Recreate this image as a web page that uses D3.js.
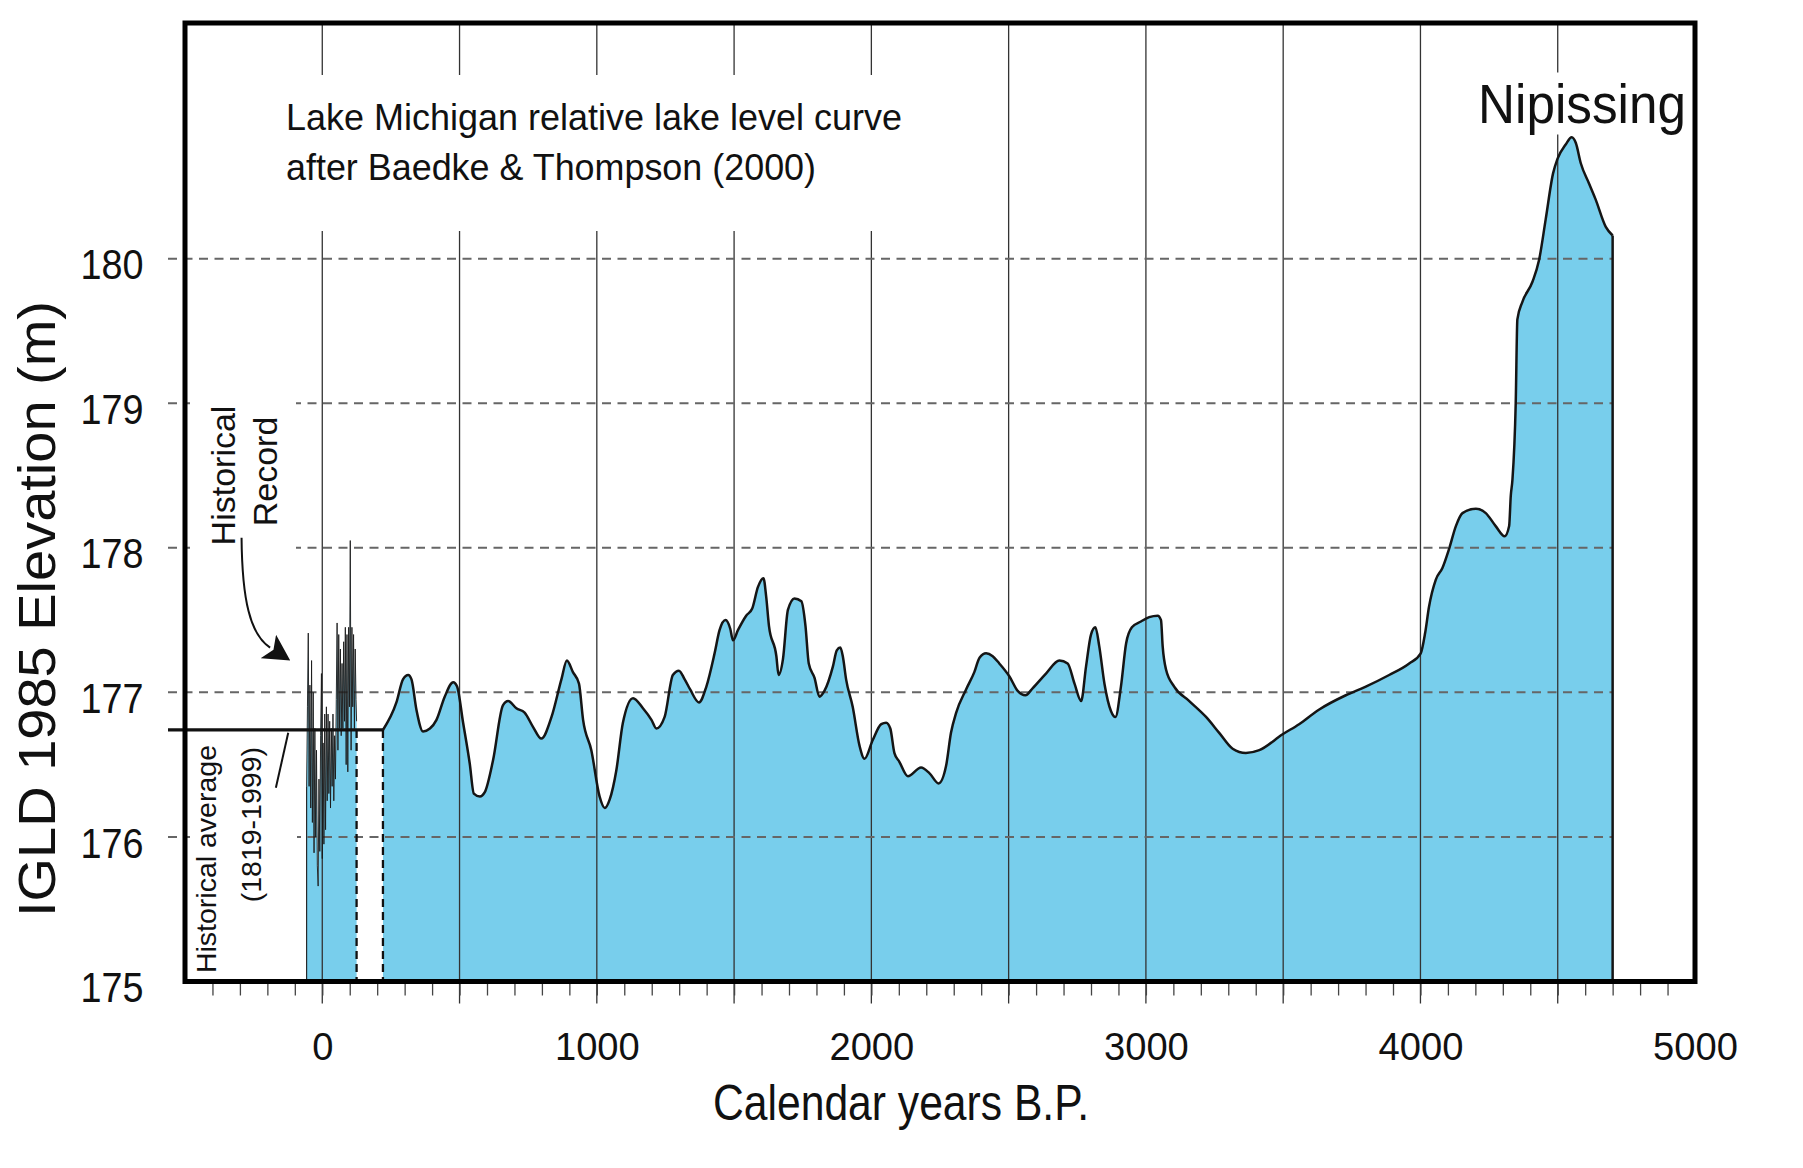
<!DOCTYPE html>
<html>
<head>
<meta charset="utf-8">
<script src="https://cdn.jsdelivr.net/npm/d3@7"></script>
<style>
	body { margin: 0; background: #fff; }
	text { font-family: "Liberation Sans", Arial, Helvetica, sans-serif; fill: #111; }
</style>
</head>
<body>
<div id="chart"></div>
<script>
// Lake Michigan relative lake level, calendar years B.P. vs IGLD 1985 elevation (m)
const mainYears = [
	221, 270, 294, 313, 325, 343, 367, 392, 416, 446, 477, 491, 513, 537, 552, 574, 592, 622, 658, 677,
	707, 737, 768, 798, 835, 871, 891, 913, 935, 950, 980, 1010, 1029, 1047, 1071, 1095, 1132, 1168, 1199, 1217,
	1247, 1277, 1299, 1320, 1340, 1372, 1399, 1429, 1447, 1469, 1486, 1496, 1514, 1544, 1566, 1587, 1607, 1617, 1627, 1654,
	1662, 1678, 1696, 1720, 1745, 1760, 1772, 1793, 1811, 1829, 1860, 1874, 1887, 1896, 1908, 1932, 1957, 1975, 2005, 2036,
	2054, 2069, 2084, 2102, 2133, 2181, 2212, 2245, 2272, 2290, 2309, 2345, 2375, 2394, 2418, 2442, 2466, 2503, 2533, 2561,
	2588, 2636, 2685, 2715, 2740, 2764, 2782, 2800, 2816, 2830, 2849, 2873, 2889, 2909, 2928, 2949, 2982, 3012, 3043, 3055,
	3061, 3073, 3103, 3158, 3219, 3267, 3316, 3364, 3413, 3498, 3558, 3630, 3728, 3801, 3886, 3959, 4001, 4017, 4031, 4056,
	4080, 4104, 4129, 4153, 4202, 4238, 4274, 4307, 4323, 4329, 4335, 4347, 4353, 4371, 4408, 4432, 4456, 4483, 4499, 4529,
	4551, 4566, 4584, 4614, 4638, 4675, 4700
];
const mainLevels = [
	176.74, 176.93, 177.09, 177.12, 177.09, 176.88, 176.73, 176.75, 176.81, 176.97, 177.07, 177.04, 176.79, 176.51, 176.30, 176.28, 176.31, 176.53, 176.91, 176.94,
	176.89, 176.86, 176.76, 176.68, 176.83, 177.09, 177.22, 177.14, 177.06, 176.81, 176.60, 176.28, 176.20, 176.26, 176.46, 176.79, 176.96, 176.89, 176.81, 176.75,
	176.83, 177.12, 177.15, 177.09, 177.02, 176.93, 177.04, 177.27, 177.43, 177.50, 177.44, 177.36, 177.43, 177.53, 177.58, 177.73, 177.79, 177.66, 177.46, 177.25,
	177.12, 177.23, 177.57, 177.65, 177.63, 177.46, 177.20, 177.10, 176.97, 177.01, 177.18, 177.29, 177.31, 177.25, 177.09, 176.90, 176.63, 176.54, 176.67, 176.78,
	176.79, 176.75, 176.58, 176.52, 176.42, 176.48, 176.44, 176.37, 176.49, 176.72, 176.86, 177.02, 177.14, 177.24, 177.27, 177.25, 177.20, 177.11, 177.01, 176.98,
	177.03, 177.13, 177.22, 177.20, 177.06, 176.94, 177.18, 177.40, 177.45, 177.32, 177.06, 176.87, 176.83, 177.04, 177.34, 177.45, 177.49, 177.52, 177.53, 177.50,
	177.32, 177.16, 177.04, 176.94, 176.83, 176.72, 176.61, 176.58, 176.60, 176.71, 176.78, 176.88, 176.98, 177.04, 177.12, 177.20, 177.27, 177.41, 177.59, 177.78,
	177.86, 177.99, 178.15, 178.24, 178.27, 178.24, 178.15, 178.08, 178.15, 178.36, 178.47, 179.00, 179.58, 179.70, 179.84, 179.99, 180.27, 180.59, 180.69, 180.79,
	180.84, 180.80, 180.66, 180.52, 180.41, 180.22, 180.16
];

// Historical gauge record (1819-1999)
const histYears = [
	-57, -54, -51, -48, -45, -42, -39, -36, -33, -30, -27, -24, -21, -18, -15, -12, -9, -6, -3, 0,
	3, 6, 9, 12, 15, 18, 21, 24, 27, 30, 33, 36, 39, 42, 45, 48, 51, 54, 57, 60,
	63, 66, 69, 72, 75, 78, 81, 84, 87, 90, 93, 96, 99, 102, 105, 108, 111, 114, 117, 120,
	123, 125
];
const histLevels = [
	176.35, 176.90, 177.41, 176.35, 177.05, 176.20, 177.22, 176.10, 177.00, 175.89, 176.75, 176.00, 176.60, 175.80, 175.66, 176.40, 175.90, 176.70, 177.13, 175.85,
	176.65, 175.95, 176.85, 176.05, 176.90, 176.25, 176.85, 176.30, 176.80, 176.20, 176.75, 176.35, 176.85, 176.25, 176.70, 176.40, 176.95, 177.48, 176.60, 177.40,
	176.75, 177.30, 176.70, 177.20, 176.75, 177.35, 176.80, 177.45, 176.50, 177.40, 176.45, 177.45, 176.90, 178.05, 176.60, 177.45, 176.90, 177.40, 176.75, 177.30,
	176.95, 176.80
];
const histAverage = 176.74;

const yTickValues = [175, 176, 177, 178, 179, 180];
const yGridValues = [176, 177, 178, 179, 180];
const xLabelValues = [0, 1000, 2000, 3000, 4000, 5000];
const xGridValues = [0, 500, 1000, 1500, 2000, 2500, 3000, 3500, 4000, 4500];

// annotation anchors, in data units
const arrowPts = [[-294, 178.07], [-292, 177.64], [-263, 177.40], [-190, 177.31]];
const pointerPts = [[-124, 176.72], [-169, 176.34]];

const width = 1803, height = 1168;
const blue = "#78ceec";
const yMax = 181.63;

const x = d3.scaleLinear().domain([-500, 5000]).range([185, 1695]);
const y = d3.scaleLinear().domain([175, yMax]).range([981.5, 23]);

const mainData = mainYears.map((d, i) => [d, mainLevels[i]]);
const histData = histYears.map((d, i) => [d, histLevels[i]]);
const gridEnd = mainYears[mainYears.length - 1];

const svg = d3.select("#chart").append("svg")
	.attr("width", width)
	.attr("height", height)
	.attr("viewBox", [0, 0, width, height]);

svg.append("defs").append("marker")
	.attr("id", "head")
	.attr("markerUnits", "userSpaceOnUse")
	.attr("viewBox", "0 0 26 28")
	.attr("markerWidth", 26)
	.attr("markerHeight", 28)
	.attr("refX", 2)
	.attr("refY", 14)
	.attr("orient", "auto")
	.append("path")
	.attr("d", "M0,0 L26,14 L0,28 L6,14 Z")
	.attr("fill", "#111");

// filled areas
const histArea = d3.area().x(d => x(d[0])).y0(y(175)).y1(d => y(d[1]));
const mainArea = d3.area().curve(d3.curveMonotoneX).x(d => x(d[0])).y0(y(175)).y1(d => y(d[1]));

svg.append("path").datum(histData).attr("d", histArea).attr("fill", blue);
svg.append("path").datum(mainData).attr("d", mainArea).attr("fill", blue);

// vertical grid lines (extend below frame as major ticks)
svg.append("g")
	.selectAll("line")
	.data(xGridValues)
	.join("line")
	.attr("x1", d => x(d)).attr("x2", d => x(d))
	.attr("y1", y(yMax)).attr("y2", y(175) + 22)
	.attr("stroke", "#333")
	.attr("stroke-width", 1.3);

// horizontal dashed grid lines
svg.append("g")
	.selectAll("line")
	.data(yGridValues)
	.join("line")
	.attr("x1", x(-500) - 17).attr("x2", x(gridEnd))
	.attr("y1", d => y(d)).attr("y2", d => y(d))
	.attr("stroke", "#666")
	.attr("stroke-width", 2)
	.attr("stroke-dasharray", "9,6.5");

// minor ticks
const minorAxis = svg.append("g")
	.attr("transform", `translate(0,${y(175)})`)
	.call(d3.axisBottom(x).tickValues(d3.range(-400, 5000, 100)).tickSize(14).tickFormat(""));
minorAxis.select(".domain").remove();
minorAxis.selectAll("line").attr("stroke", "#444").attr("stroke-width", 1.3);

// x labels
const xAxis = svg.append("g")
	.attr("transform", `translate(0,${y(175)})`)
	.call(d3.axisBottom(x).tickValues(xLabelValues).tickFormat(d3.format("d")).tickSize(0).tickPadding(50.5));
xAxis.select(".domain").remove();
xAxis.selectAll("text")
	.attr("font-size", 39)
	.attr("textLength", d => String(d).length * 21.2)
	.attr("lengthAdjust", "spacingAndGlyphs")
	.style("font-family", "'Liberation Sans', Arial, sans-serif")
	.attr("fill", "#111");

// y labels
const yAxis = svg.append("g")
	.attr("transform", `translate(${x(-500)},0)`)
	.call(d3.axisLeft(y).tickValues(yTickValues).tickFormat(d3.format("d")).tickSize(0).tickPadding(41.5));
yAxis.select(".domain").remove();
yAxis.selectAll("text")
	.attr("font-size", 42)
	.attr("dy", "0.48em")
	.attr("textLength", 63)
	.attr("lengthAdjust", "spacingAndGlyphs")
	.style("font-family", "'Liberation Sans', Arial, sans-serif")
	.attr("fill", "#111");

// white knockouts behind labels that break the grid
const knock = svg.append("g").attr("fill", "#fff");
knock.append("rect").attr("x", 300).attr("y", 75).attr("width", 590).attr("height", 156);
knock.append("rect").attr("x", 190).attr("y", 395).attr("width", 106).attr("height", 161);
knock.append("rect").attr("x", 190).attr("y", 740).attr("width", 107).attr("height", 236);

// historical record line
const histLine = d3.line().x(d => x(d[0])).y(d => y(d[1]));
svg.append("path").datum(histData)
	.attr("d", histLine)
	.attr("fill", "none")
	.attr("stroke", "#1a1a1a")
	.attr("stroke-width", 0.9);
svg.append("line")
	.attr("x1", x(histYears[0])).attr("x2", x(histYears[0]))
	.attr("y1", y(histLevels[0])).attr("y2", y(175))
	.attr("stroke", "#1a1a1a").attr("stroke-width", 1.1);

// main curve line and right edge
const mainLine = d3.line().curve(d3.curveMonotoneX).x(d => x(d[0])).y(d => y(d[1]));
svg.append("path").datum(mainData)
	.attr("d", mainLine)
	.attr("fill", "none")
	.attr("stroke", "#151515")
	.attr("stroke-width", 2.5)
	.attr("stroke-linejoin", "round");
svg.append("line")
	.attr("x1", x(gridEnd)).attr("x2", x(gridEnd))
	.attr("y1", y(mainLevels[mainLevels.length - 1])).attr("y2", y(175))
	.attr("stroke", "#151515").attr("stroke-width", 2.5);

// dashed separators between gauge record and curve
svg.append("g")
	.selectAll("line")
	.data([histYears[histYears.length - 1], mainYears[0]])
	.join("line")
	.attr("x1", d => x(d)).attr("x2", d => x(d))
	.attr("y1", y(histAverage)).attr("y2", y(175))
	.attr("stroke", "#111")
	.attr("stroke-width", 2.3)
	.attr("stroke-dasharray", "8,5");

// historical average
svg.append("line")
	.attr("x1", x(-500) - 17).attr("x2", x(mainYears[0]))
	.attr("y1", y(histAverage)).attr("y2", y(histAverage))
	.attr("stroke", "#111")
	.attr("stroke-width", 3.2);

// frame
svg.append("rect")
	.attr("x", x(-500)).attr("y", y(yMax))
	.attr("width", x(5000) - x(-500)).attr("height", y(175) - y(yMax))
	.attr("fill", "none")
	.attr("stroke", "#000")
	.attr("stroke-width", 5);

// annotations
const arrowPath = d3.path();
arrowPath.moveTo(x(arrowPts[0][0]), y(arrowPts[0][1]));
arrowPath.bezierCurveTo(
	x(arrowPts[1][0]), y(arrowPts[1][1]),
	x(arrowPts[2][0]), y(arrowPts[2][1]),
	x(arrowPts[3][0]), y(arrowPts[3][1]));
svg.append("path")
	.attr("d", arrowPath.toString())
	.attr("fill", "none")
	.attr("stroke", "#111")
	.attr("stroke-width", 2)
	.attr("marker-end", "url(#head)");

svg.append("line")
	.attr("x1", x(pointerPts[0][0])).attr("y1", y(pointerPts[0][1]))
	.attr("x2", x(pointerPts[1][0])).attr("y2", y(pointerPts[1][1]))
	.attr("stroke", "#111")
	.attr("stroke-width", 2);

// texts
svg.append("text")
	.attr("x", 286).attr("y", 130)
	.attr("font-size", 36)
	.attr("textLength", 616)
	.attr("lengthAdjust", "spacingAndGlyphs")
	.text("Lake Michigan relative lake level curve");
svg.append("text")
	.attr("x", 286).attr("y", 180)
	.attr("font-size", 36)
	.attr("textLength", 530)
	.attr("lengthAdjust", "spacingAndGlyphs")
	.text("after Baedke & Thompson (2000)");

const nip = svg.append("text")
	.attr("x", 1686).attr("y", 122.5)
	.attr("font-size", 55)
	.attr("text-anchor", "end")
	.attr("textLength", 208)
	.attr("lengthAdjust", "spacingAndGlyphs")
	.text("Nipissing");
const nb = nip.node().getBBox();
svg.insert("rect", () => nip.node())
	.attr("x", nb.x).attr("y", nb.y)
	.attr("width", nb.width).attr("height", nb.height)
	.attr("fill", "#fff");

svg.append("text")
	.attr("transform", "translate(235,475.5) rotate(-90)")
	.attr("font-size", 34)
	.attr("text-anchor", "middle")
	.text("Historical");
svg.append("text")
	.attr("transform", "translate(277,471.5) rotate(-90)")
	.attr("font-size", 34)
	.attr("text-anchor", "middle")
	.text("Record");

svg.append("text")
	.attr("transform", "translate(216,745) rotate(-90)")
	.attr("font-size", 28.5)
	.attr("text-anchor", "end")
	.text("Historical average");
svg.append("text")
	.attr("transform", "translate(261,747) rotate(-90)")
	.attr("font-size", 28.5)
	.attr("text-anchor", "end")
	.text("(1819-1999)");

svg.append("text")
	.attr("x", 901).attr("y", 1120)
	.attr("font-size", 50)
	.attr("text-anchor", "middle")
	.attr("textLength", 376)
	.attr("lengthAdjust", "spacingAndGlyphs")
	.text("Calendar years B.P.");

svg.append("text")
	.attr("transform", "translate(54.5,609) rotate(-90)")
	.attr("font-size", 51)
	.attr("text-anchor", "middle")
	.attr("textLength", 616)
	.attr("lengthAdjust", "spacingAndGlyphs")
	.text("IGLD 1985 Elevation (m)");
</script>
</body>
</html>
